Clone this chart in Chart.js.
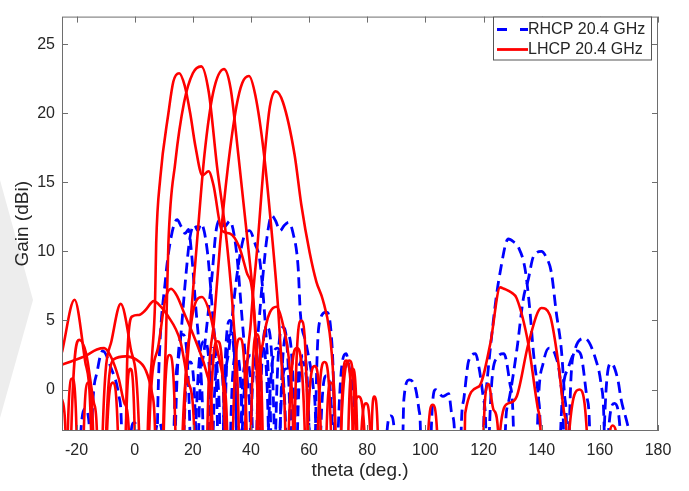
<!DOCTYPE html>
<html>
<head>
<meta charset="utf-8">
<script src="https://cdn.jsdelivr.net/npm/chart.js@4.4.1/dist/chart.umd.min.js"></script>
<style>
  html, body { margin: 0; padding: 0; background: #fff; }
  #wrap { width: 689px; height: 491px; position: relative; }
</style>
</head>
<body>
<div id="wrap"><canvas id="gainChart" width="689" height="491"></canvas></div>
<script>
// axis ticks
const xTicks = [-20, 0, 20, 40, 60, 80, 100, 120, 140, 160, 180];
const yTicks = [0, 5, 10, 15, 20, 25];

// LHCP cuts (red, solid) - theta in deg, gain in dBi (nulls go below the -3 floor)
const lhcp1Theta = [-25, -20.7, -17, -15, -14.5, -11.5, -11, -8, -4.8, -1.4, 1.5, 2.2, 3.8, 4.5, 6, 7, 7.4, 8.8, 11.6, 13.3, 15.3, 17.2, 19.1, 20.9, 23.3, 25.4, 27.1, 30, 32.7, 36, 38.5, 40.8, 42.5, 43, 59, 59.5, 61.9, 64, 64.5, 77.5, 78, 79.6, 81, 81.5, 113, 113.7, 118.3, 122.3, 125.7, 127, 129.7, 131.4, 135.4, 138.8, 139.6, 140.2];
const lhcp1Gain  = [2.7, 6.5, 2.0, -3, -12, -12, -3, 3.5, 6.2, 3.0, -3, -12, -12, -3, 2.5, 6.3, 10.6, 15.3, 20, 22.3, 22.9, 22.0, 20, 17.6, 15.5, 15.8, 14.8, 11.5, 11.3, 10.3, 8.5, 6.3, -3, -12, -12, -3, 1.7, -3, -12, -12, -3, -1, -3, -12, -12, -1.7, 0.2, 3.3, 7.4, 7.3, 7.0, 6.6, 3.3, -1.5, -3, -12];

const lhcp2Theta = [-25, -23.8, -23.3, -22.4, -21.8, -19, -16.7, -14, -13, -12.5, -10.4, -9.8, -7.1, -3.1, 0.3, 3.8, 6, 7, 7.5, 9.2, 9.8, 10.8, 11.6, 14, 17, 20, 22.9, 25.5, 28.3, 31.7, 34, 35.8, 36.3, 41.5, 42, 44.2, 48.8, 51, 53.3, 54.5, 55, 70.5, 71, 73.8, 76, 76.5, 119.5, 120, 121.7, 123.5, 125, 125.4, 163, 163.5, 164.4, 165.5, 166];
const lhcp2Gain  = [-0.7, -3, -12, -12, -3, 3.6, 2.6, -1, -3, -12, -12, -3, 2.2, 2.4, 2.2, 1.4, -0.3, -3, -12, -12, -3, 4, 10.6, 16.5, 20.8, 22.9, 23.4, 21.5, 16.2, 10.6, 5, -3, -12, -12, -3, 3.5, 6.0, 4.7, 1.6, -3, -12, -12, -3, 2.1, -3, -12, -12, -3, 0.4, -1.5, -3, -12, -12, -3, -2.6, -3, -12];

const lhcp3Theta = [-25, -21, -17.3, -13, -10.5, -8, -5.5, -3.5, -2, -1.5, 15.5, 16.5, 18.5, 20, 21.4, 24, 27, 30.7, 33, 35.7, 38.7, 40.9, 42.5, 43.3, 43.7, 54.5, 55, 57.3, 59.5, 60, 81, 81.5, 82.4, 83.6, 84, 125.2, 125.7, 128.5, 131.4, 135.4, 139.9, 142.8, 145.6, 147.9, 148.5, 149];
const lhcp3Gain  = [1.8, 2.1, 2.4, 2.9, 3.0, 2.3, 0.8, -1, -3, -12, -12, -3, 3, 7, 10.6, 17, 21.5, 23.2, 21.8, 16.9, 11, 6.3, 1, -3, -12, -12, -3, 5.0, -3, -12, -12, -3, -0.5, -3, -12, -12, -3, -1, -0.5, 3.3, 5.9, 5.4, 2.1, -1.9, -3, -12];

const lhcp4Theta = [-18, -17.5, -16, -14.3, -13.8, -3.5, -3, -2.5, -0.8, 1.5, 3.5, 6.6, 9, 11.2, 15.7, 18.5, 20.5, 21, 24.5, 25, 27.3, 29.4, 32, 35, 37, 39.3, 41.5, 44.5, 47.3, 49.3, 50.8, 51.8, 52.3, 70.5, 71, 72.7, 75, 75.5, 149, 149.5, 153, 155.5, 156];
const lhcp4Gain  = [-12, -3, 0.5, -3, -12, -12, -3, 2.6, 5.3, 5.4, 5.7, 6.4, 6.0, 5.4, 3.5, 0.5, -3, -12, -12, -3, 5, 10.6, 16, 20.5, 22.2, 22.7, 21.3, 17, 11, 6, 1, -3, -12, -12, -3, 2.1, -3, -12, -12, -3, 0, -3, -12];

const lhcp5Theta = [4.5, 5, 8, 10.5, 12.5, 14.5, 16.9, 21.4, 24.9, 26.8, 27.3, 37.5, 38, 40, 42.3, 44.5, 46.5, 48.5, 51, 55, 57.3, 60.2, 62.5, 64.7, 67, 68.3, 69, 69.4, 73, 73.5, 75, 76.5, 77, 100.5, 101, 102.5, 104, 104.5];
const lhcp5Gain  = [-12, -3, 3, 6.5, 7.3, 6.8, 5.6, 3.3, 1.1, -3, -12, -12, -3, 5, 10.6, 16.5, 20.5, 21.6, 20.8, 17, 13.4, 9.9, 7.8, 6.5, 4.2, 1, -3, -12, -12, -3, 1.5, -3, -12, -12, -3, -1.1, -3, -12];

const lhcp6Theta = [-10, -9.5, -7.5, -5.8, -5.3, 16.5, 17, 19.1, 23.1, 26, 28.3, 30.5, 31.8, 32.2, 33.3, 33.8, 36.2, 38.5, 39, 62.5, 63, 65.3, 67.5, 68];
const lhcp6Gain  = [-12, -3, 0.5, -3, -12, -12, -3, 4.2, 6.7, 5.4, 3.0, 0.7, -3, -12, -12, -3, 3.7, -3, -12, -12, -3, 2.0, -3, -12];

const lhcp7Theta = [-23.5, -23, -21.5, -20, -19.5, -3.5, -3, -1.5, 0, 0.5, 9.5, 10, 12, 14, 14.5, 25.5, 26, 28.5, 31, 31.5, 39.5, 40, 42, 44, 44.5, 52.5, 53, 55.8, 58.5, 59, 65.5, 66, 67.5, 69, 69.5, 74.5, 75, 77, 79, 79.5];
const lhcp7Gain  = [-12, -3, 0.8, -3, -12, -12, -3, 1.5, -3, -12, -12, -3, 2.5, -3, -12, -12, -3, 3.5, -3, -12, -12, -3, 4.0, -3, -12, -12, -3, 3.0, -3, -12, -12, -3, 0.5, -3, -12, -12, -3, -0.5, -3, -12];

// RHCP cuts (blue, dashed)
const rhcp1Theta = [-15.5, -14.8, -12.8, -11, -8.2, -5.4, -4.5, -4, 7.3, 7.8, 8.3, 10.6, 12.5, 14.6, 16, 17.4, 18.5, 19.5, 21, 22.5, 23.5, 24, 25, 25.5, 27, 28.5, 29, 30, 30.5, 32.8, 35, 35.5, 36, 36.5, 38.5, 40.5, 41, 42.5, 43, 45.5, 48, 48.5, 49.5, 50, 52, 54, 54.5, 91.8, 92.3, 92.6, 94.4, 96.7, 97.8, 98.3, 98.7, 119.5, 120, 121.1, 124, 125.7, 128.5, 130.3, 132, 134.3, 136, 137.1, 138.8, 139.5, 140, 149, 149.5, 151.3, 154.8, 158.7, 160.4, 161.5, 162];
const rhcp1Gain  = [-12, -3, 1.4, 2.8, 1.6, -0.5, -3, -12, -12, -3, 1.4, 8.0, 11, 12.3, 11.8, 11.3, 11.6, 10, 6, 2, -3, -12, -12, -3, 3.0, -3, -12, -12, -3, 5.0, -3, -12, -12, -3, 2.0, -3, -12, -12, -3, 4.5, -3, -12, -12, -3, 1.5, -3, -12, -12, -3, -0.7, 0.7, 0, -1.5, -3, -12, -12, -3, 0.4, 6.1, 8.5, 10.9, 10.7, 10.3, 8.7, 5.6, 2.8, -0.5, -3, -12, -12, -3, 2.8, 3.7, 2.1, 0.4, -3, -12];

const rhcp2Theta = [-19, -18.5, -17, -15.5, -15, -1.6, -1.2, -0.2, 0.8, 1.2, 13, 13.5, 15.5, 17.5, 19, 20.6, 21.7, 22.8, 25, 27, 28.5, 29.3, 29.8, 30.5, 31, 33, 35, 35.5, 36.5, 37, 40, 43, 43.5, 45.5, 46, 49, 52, 52.5, 54.5, 55, 57.5, 60, 60.5, 101.5, 102, 103.5, 106, 108, 109.2, 110, 110.4, 127, 127.5, 128.5, 131.4, 133.7, 135.4, 137.1, 139.9, 141.5, 143.3, 145, 146.8, 147.9, 148.6, 149, 161, 161.5, 163.9, 166.2, 167.3, 169.6, 170.2];
const rhcp2Gain  = [-12, -3, -1.4, -3, -12, -12, -3, -2.4, -3, -12, -12, -3, 3, 8, 11, 11.9, 11.5, 12.0, 10, 5, 1, -3, -12, -12, -3, 4.0, -3, -12, -12, -3, 2.5, -3, -12, -12, -3, 3.0, -3, -12, -12, -3, 2.0, -3, -12, -12, -3, 0, -0.5, -0.3, -1.9, -3, -12, -12, -3, -1, 2.8, 6.6, 8, 9.6, 10.0, 9.6, 8.5, 5.6, 2.8, -0.5, -3, -12, -12, -3, 1.9, 0.7, -0.7, -2.6, -3.2];

const rhcp3Theta = [7, 7.3, 8.3, 9.3, 9.6, 13.5, 14, 16.5, 19, 19.5, 21.5, 22, 24, 26.5, 28, 29.7, 31, 32.7, 35, 37, 39, 39.8, 40.2, 41.5, 42, 44, 46, 46.5, 49.5, 50, 52.5, 55, 55.5, 61.8, 62.2, 63.6, 65.9, 67.6, 68.7, 69.1, 86.3, 86.8, 88.1, 89.3, 89.7, 111.8, 112.3, 113.2, 114.9, 117.2, 118.5, 120, 120.8, 121.2];
const rhcp3Gain  = [-12, -3, -2.4, -3, -12, -12, -3, 4.0, -3, -12, -12, -3, 3, 8, 11.5, 12.3, 11.8, 12.2, 10, 5, 0, -3, -12, -12, -3, 3.0, -3, -12, -12, -3, 4.0, -3, -12, -12, -3, 4.9, 5.6, 4.0, -3, -12, -12, -3, -1.9, -3, -12, -12, -3, -0.7, 2.1, 2.6, 1.5, -0.7, -3, -12];

const rhcp4Theta = [20.5, 21, 24, 26.5, 27, 30, 30.5, 32.5, 35, 37.5, 39.5, 41.5, 43, 44.5, 46, 46.8, 47.2, 48, 48.5, 51, 53.5, 54, 55.5, 56, 58, 60, 60.5, 63.5, 64, 66, 68, 68.5, 69.6, 70, 72.7, 73.8, 74.9, 75.8, 76.2, 121.5, 122, 124.6, 127, 129, 130.3, 130.8, 146, 146.5, 149, 152, 153.5, 155.5, 156.5, 157, 162.5, 163, 165, 167, 167.5];
const rhcp4Gain  = [-12, -3, 3.5, -3, -12, -12, -3, 3, 8, 11, 11.5, 10.5, 9.4, 6, 1, -3, -12, -12, -3, 4.5, -3, -12, -12, -3, 2.5, -3, -12, -12, -3, 1.0, -3, -12, -12, -3, 2.6, 1.6, 0.2, -3, -12, -12, -3, 2.3, 2.6, 0.5, -3, -12, -12, -3, 1.5, 2.8, 2.5, -0.5, -3, -12, -12, -3, -1, -3, -12];

const rhcp5Theta = [16.5, 17, 19, 21, 21.5, 26.5, 27, 29, 31, 31.4, 32.5, 33, 35, 37, 37.5, 39.5, 40, 42, 44, 45.5, 47.1, 48.5, 50, 51.5, 53, 54.5, 56.2, 57, 59, 61.4, 62.3, 62.7, 138, 138.5, 140.5, 142.5, 144.5, 146.5, 147.5, 148];
const rhcp5Gain  = [-12, -3, 2.0, -3, -12, -12, -3, 2.0, -3, -12, -12, -3, 2.5, -3, -12, -12, -3, 3, 8, 11, 12.6, 12.2, 11.5, 11.9, 12.1, 11.3, 8.9, 5.5, 3.3, 0.2, -3, -12, -12, -3, 1.9, 3.0, 2.6, 0.5, -3, -12];

const legendLabels = ['RHCP 20.4 GHz', 'LHCP 20.4 GHz'];

const RED = '#ff0000', BLUE = '#0000ff';
const FONT = "'Liberation Sans', Arial, Helvetica, sans-serif";
const TXT = '#262626';

function pts(th, g) { return th.map((t, i) => ({ x: t, y: g[i] })); }

const lhcp = [[lhcp1Theta, lhcp1Gain], [lhcp2Theta, lhcp2Gain], [lhcp3Theta, lhcp3Gain], [lhcp4Theta, lhcp4Gain], [lhcp5Theta, lhcp5Gain], [lhcp6Theta, lhcp6Gain], [lhcp7Theta, lhcp7Gain]];
const rhcp = [[rhcp1Theta, rhcp1Gain], [rhcp2Theta, rhcp2Gain], [rhcp3Theta, rhcp3Gain], [rhcp4Theta, rhcp4Gain], [rhcp5Theta, rhcp5Gain]];

const datasets = [];
lhcp.forEach(([t, g]) => datasets.push({ data: pts(t, g), borderColor: RED, borderWidth: 2.6 }));
rhcp.forEach(([t, g]) => datasets.push({ data: pts(t, g), borderColor: BLUE, borderWidth: 2.8, borderDash: [11, 6] }));

// faint grey watermark shape at the far left of the page
const watermark = {
  id: 'watermark',
  beforeDraw(chart) {
    const ctx = chart.ctx;
    ctx.save();
    ctx.fillStyle = '#ededed';
    ctx.beginPath();
    ctx.moveTo(0, 180); ctx.lineTo(33, 300); ctx.lineTo(0, 418);
    ctx.closePath();
    ctx.fill();
    ctx.restore();
  }
};

// box, inward ticks and legend, MATLAB style
const axesDecor = {
  id: 'axesDecor',
  afterDatasetsDraw(chart) {
    const { ctx, chartArea: a, scales: { x, y } } = chart;
    ctx.save();
    ctx.strokeStyle = '#6e6e6e';
    ctx.lineWidth = 1;
    ctx.strokeRect(a.left + 0.5, a.top + 0.5, a.right - a.left - 1, a.bottom - a.top - 1);
    ctx.beginPath();
    xTicks.forEach(v => {
      const px = Math.round(x.getPixelForValue(v)) + 0.5;
      ctx.moveTo(px, a.bottom); ctx.lineTo(px, a.bottom - 6);
      ctx.moveTo(px, a.top); ctx.lineTo(px, a.top + 6);
    });
    yTicks.forEach(v => {
      const py = Math.round(y.getPixelForValue(v)) + 0.5;
      ctx.moveTo(a.left, py); ctx.lineTo(a.left + 6, py);
      ctx.moveTo(a.right, py); ctx.lineTo(a.right - 6, py);
    });
    ctx.stroke();

    // legend box
    const lx = 493, ly = 16.5, lw = 158, lh = 43;
    ctx.fillStyle = '#fff';
    ctx.fillRect(lx, ly, lw, lh);
    ctx.strokeStyle = '#555';
    ctx.strokeRect(lx + 0.5, ly + 0.5, lw, lh);
    const rows = [{ c: BLUE, dash: [10, 13], y: ly + 13 }, { c: RED, dash: [], y: ly + 33 }];
    rows.forEach((r, i) => {
      ctx.beginPath();
      ctx.setLineDash(r.dash);
      ctx.strokeStyle = r.c;
      ctx.lineWidth = 2.8;
      ctx.moveTo(lx + 4, r.y); ctx.lineTo(lx + 35, r.y);
      ctx.stroke();
      ctx.setLineDash([]);
      ctx.fillStyle = TXT;
      ctx.font = '16px ' + FONT;
      ctx.textBaseline = 'middle';
      ctx.fillText(legendLabels[i], lx + 35, r.y + 0.5);
    });
    ctx.restore();
  }
};

new Chart(document.getElementById('gainChart'), {
  type: 'line',
  data: { datasets },
  options: {
    responsive: false,
    devicePixelRatio: 1,
    animation: false,
    layout: { padding: { left: 0, right: 31, top: 8, bottom: 0 } },
    elements: { point: { radius: 0 }, line: { cubicInterpolationMode: 'monotone', fill: false } },
    plugins: { legend: { display: false }, tooltip: { enabled: false } },
    scales: {
      x: {
        type: 'linear', min: -25, max: 180,
        afterBuildTicks: s => { s.ticks = xTicks.map(v => ({ value: v })); },
        afterFit: s => { s.height = 60; },
        grid: { display: false, drawTicks: false },
        border: { display: false },
        ticks: { color: TXT, font: { family: FONT, size: 16 }, padding: 10, maxRotation: 0, autoSkip: false },
        title: { display: true, text: 'theta (deg.)', color: TXT, font: { family: FONT, size: 19 }, padding: { top: 0, bottom: 9 } }
      },
      y: {
        type: 'linear', min: -3, max: 27,
        afterBuildTicks: s => { s.ticks = yTicks.map(v => ({ value: v })); },
        afterFit: s => { s.width = 62; },
        grid: { display: false, drawTicks: false },
        border: { display: false },
        ticks: { color: TXT, font: { family: FONT, size: 16 }, padding: 7 },
        title: { display: true, text: 'Gain (dBi)', color: TXT, font: { family: FONT, size: 19 }, padding: { top: 11, bottom: 0 } }
      }
    }
  },
  plugins: [watermark, axesDecor]
});
</script>
</body>
</html>
